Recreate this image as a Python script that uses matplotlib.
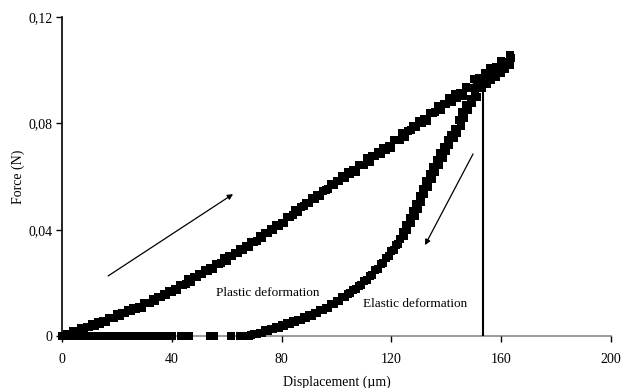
import matplotlib
matplotlib.use("Agg")
import matplotlib.pyplot as plt

# ---------------- data ----------------
load_x = list(range(0, 164))
load_f = [
    0.0000, 0.0000, 0.0009, 0.0003, 0.0018, 0.0018, 0.0018, 0.0032, 0.0022, 0.0035,
    0.0033, 0.0044, 0.0039, 0.0053, 0.0047, 0.0057, 0.0052, 0.0068, 0.0068, 0.0069,
    0.0084, 0.0074, 0.0087, 0.0087, 0.0097, 0.0093, 0.0107, 0.0101, 0.0111, 0.0106,
    0.0123, 0.0123, 0.0125, 0.0141, 0.0132, 0.0146, 0.0147, 0.0158, 0.0154, 0.0169,
    0.0164, 0.0176, 0.0173, 0.0191, 0.0193, 0.0196, 0.0213, 0.0205, 0.0221, 0.0222,
    0.0235, 0.0232, 0.0248, 0.0243, 0.0256, 0.0253, 0.0271, 0.0272, 0.0275, 0.0292,
    0.0284, 0.0300, 0.0301, 0.0314, 0.0312, 0.0329, 0.0325, 0.0337, 0.0335, 0.0353,
    0.0355, 0.0359, 0.0377, 0.0370, 0.0386, 0.0388, 0.0402, 0.0400, 0.0417, 0.0414,
    0.0427, 0.0426, 0.0446, 0.0449, 0.0454, 0.0473, 0.0467, 0.0484, 0.0488, 0.0502,
    0.0500, 0.0519, 0.0516, 0.0529, 0.0528, 0.0547, 0.0550, 0.0555, 0.0573, 0.0567,
    0.0585, 0.0585, 0.0602, 0.0594, 0.0618, 0.0608, 0.0625, 0.0617, 0.0644, 0.0643,
    0.0645, 0.0670, 0.0654, 0.0676, 0.0676, 0.0693, 0.0685, 0.0709, 0.0699, 0.0716,
    0.0708, 0.0736, 0.0736, 0.0739, 0.0765, 0.0750, 0.0773, 0.0774, 0.0792, 0.0785,
    0.0810, 0.0800, 0.0818, 0.0810, 0.0838, 0.0838, 0.0841, 0.0866, 0.0851, 0.0873,
    0.0872, 0.0894, 0.0880, 0.0912, 0.0894, 0.0916, 0.0902, 0.0937, 0.0934, 0.0934,
    0.0966, 0.0942, 0.0970, 0.0968, 0.0989, 0.0976, 0.1008, 0.0991, 0.1013, 0.1000,
    0.1036, 0.1030, 0.1028, 0.1058,
]

unload_x = [
    163.5, 163.0, 162.2, 161.5, 160.6, 159.8, 159.0, 158.1, 157.3, 156.4,
    155.6, 154.7, 153.8, 153.0, 152.5, 150.5, 151.0, 148.8, 149.2, 147.0,
    147.8, 145.6, 146.4, 144.5, 145.3, 143.2, 144.0, 141.8, 142.6, 140.4,
    141.0, 139.0, 139.8, 137.8, 138.6, 136.6, 137.4, 135.2, 136.0, 134.0,
    134.6, 132.6, 133.4, 131.4, 132.0, 130.2, 130.8, 129.0, 129.6, 127.8,
    128.4, 126.6, 127.0, 125.4, 125.8, 124.2, 124.6,
    123.2, 122.4, 121.6, 120.8, 120.0, 119.0, 118.0, 117.0, 116.0, 115.0,
    114.0, 113.0, 112.0, 111.0, 110.0, 109.0, 108.0, 107.0, 106.0, 105.0,
    104.0, 103.0, 102.0, 101.0, 100.0, 99.0, 98.0, 97.0, 96.0, 95.0,
    94.0, 93.0, 92.0, 91.0, 90.0, 89.0, 88.0, 87.0, 86.0, 85.0,
    84.0, 83.0, 82.0, 81.0, 80.0, 79.0, 78.0, 77.0, 76.0, 75.0,
    74.0, 73.0, 72.0, 71.0, 70.0, 69.0, 68.0,
]
unload_f = [
    0.1045, 0.1020, 0.1032, 0.1005, 0.1018, 0.0990, 0.1002, 0.0975, 0.0988, 0.0962,
    0.0971, 0.0948, 0.0955, 0.0932, 0.0935, 0.0920, 0.0900, 0.0892, 0.0875, 0.0868,
    0.0850, 0.0842, 0.0820, 0.0812, 0.0790, 0.0780, 0.0765, 0.0758, 0.0745, 0.0738,
    0.0720, 0.0712, 0.0695, 0.0688, 0.0670, 0.0662, 0.0645, 0.0636, 0.0618, 0.0610,
    0.0590, 0.0582, 0.0562, 0.0553, 0.0535, 0.0525, 0.0505, 0.0496, 0.0478, 0.0470,
    0.0452, 0.0444, 0.0425, 0.0418, 0.0400, 0.0392, 0.0375,
    0.0366, 0.0346, 0.0341, 0.0322, 0.0319, 0.0302, 0.0295, 0.0275, 0.0270, 0.0252,
    0.0248, 0.0229, 0.0226, 0.0209, 0.0207, 0.0192, 0.0189, 0.0177, 0.0174, 0.0160,
    0.0159, 0.0146, 0.0145, 0.0133, 0.0132, 0.0120, 0.0119, 0.0107, 0.0106, 0.0096,
    0.0096, 0.0085, 0.0087, 0.0076, 0.0078, 0.0068, 0.0070, 0.0060, 0.0062, 0.0052,
    0.0055, 0.0045, 0.0048, 0.0039, 0.0041, 0.0032, 0.0035, 0.0027, 0.0028, 0.0019,
    0.0021, 0.0012, 0.0013, 0.0006, 0.0007, 0.0002, 0.0001,
]

zero_x = [67.0, 66.0, 65.0, 61.4, 55.4, 54.0, 46.3, 45.0, 43.4,
          40, 39, 38, 37, 36, 35, 34, 33, 32, 31, 30, 29, 28, 27, 26, 25, 24, 23,
          22, 21, 20, 19, 18, 17, 16, 15, 14, 13, 12, 11, 10, 9, 8, 7, 6, 5, 4,
          3, 2, 1, 0]
zero_f = [0.0] * len(zero_x)

vline_x = 153.4
vline_top = 0.0925

x_ticks = [0, 40, 80, 120, 160, 200]
x_tick_labels = ["0", "40", "80", "120", "160", "200"]
y_ticks = [0, 0.04, 0.08, 0.12]
y_tick_labels = ["0", "0,04", "0,08", "0,12"]

# ---------------- figure ----------------
plt.rcParams["font.family"] = ["Liberation Serif", "DejaVu Serif"]
fig = plt.figure(figsize=(6.23, 3.88), dpi=100)
ax = fig.add_axes([0.0995, 0.134, 0.8815, 0.822])

all_x = load_x + unload_x + zero_x
all_f = load_f + unload_f + zero_f

ax.plot(all_x, all_f, color="#a0a0a0", linewidth=0.7, zorder=2, clip_on=False)
ax.plot(all_x, all_f, linestyle="none", marker="s", markersize=5.8,
        color="black", markeredgewidth=0, zorder=3, clip_on=False)

ax.plot([vline_x, vline_x], [0, vline_top], color="black", linewidth=1.5, zorder=4)

ax.annotate("", xy=(62.3, 0.0534), xytext=(16.8, 0.0226),
            arrowprops=dict(arrowstyle="-|>", color="black", lw=0.9,
                            mutation_scale=8, shrinkA=0, shrinkB=0))
ax.annotate("", xy=(132.2, 0.0342), xytext=(149.7, 0.0685),
            arrowprops=dict(arrowstyle="-|>", color="black", lw=0.9,
                            mutation_scale=8, shrinkA=0, shrinkB=0))

ax.text(75, 0.0162, "Plastic deformation", fontsize=9.5, ha="center", va="center")
ax.text(128.6, 0.0120, "Elastic deformation", fontsize=9.5, ha="center", va="center")

ax.set_xlim(0, 200)
ax.set_ylim(0, 0.12)
ax.set_xticks(x_ticks)
ax.set_xticklabels(x_tick_labels)
ax.set_yticks(y_ticks)
ax.set_yticklabels(y_tick_labels)
ax.tick_params(axis="both", direction="out", length=4, width=1, labelsize=10,
               colors="black")
ax.tick_params(axis="x", pad=8)
ax.tick_params(axis="y", pad=3)

for s in ["top", "right"]:
    ax.spines[s].set_visible(False)
ax.spines["left"].set_color("black")
ax.spines["left"].set_linewidth(1.2)
ax.spines["bottom"].set_color("#8a8a8a")
ax.spines["bottom"].set_linewidth(1.2)
ax.spines["bottom"].set_zorder(1)

ax.set_xlabel("Displacement (µm)", fontsize=10, labelpad=7)
ax.set_ylabel("Force (N)", fontsize=10)
ax.yaxis.set_label_coords(-0.068, 0.5)

fig.savefig("out.png", dpi=100)
